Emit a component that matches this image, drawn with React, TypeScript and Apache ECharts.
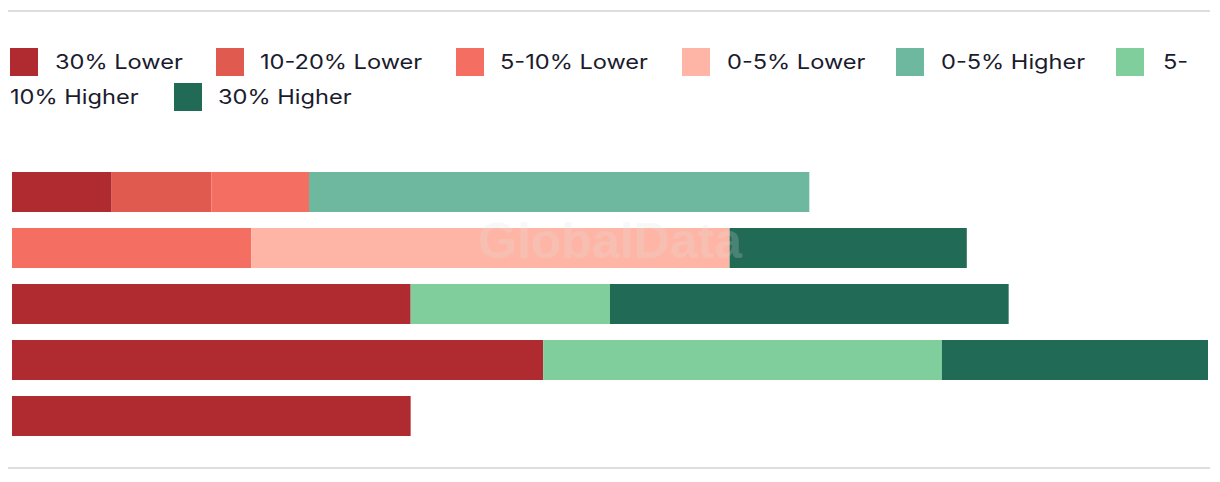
import React, { useEffect, useRef } from "react";
import * as echarts from "echarts";

const categories = ["Group 1", "Group 2", "Group 3", "Group 4", "Group 5"];
const seriesNames = [
  "30% Lower",
  "10-20% Lower",
  "5-10% Lower",
  "0-5% Lower",
  "0-5% Higher",
  "5-10% Higher",
  "30% Higher",
];
const seriesColors = ["#AF2B2F", "#E05A4F", "#F46E62", "#FEB5A6", "#6FB8A0", "#7FCE9C", "#216A56"];

const lower30 = [1, 0, 4, 5.33, 4];
const lower10to20 = [1, 0, 0, 0, 0];
const lower5to10 = [0.98, 2.4, 0, 0, 0];
const lower0to5 = [0, 4.8, 0, 0, 0];
const higher0to5 = [5.02, 0, 0, 0, 0];
const higher5to10 = [0, 0, 2, 4, 0];
const higher30 = [0, 2.38, 4, 2.67, 0];

const seriesValues = [lower30, lower10to20, lower5to10, lower0to5, higher0to5, higher5to10, higher30];

// legend layout (HTML-like wrapped legend)
const legendSquares = [
  [10, 48],
  [216, 48],
  [456, 48],
  [682, 48],
  [896, 48],
  [1116, 48],
  [174, 83],
];
const legendTexts = [
  [["30% Lower", 55, 62]],
  [["10-20% Lower", 260, 62]],
  [["5-10% Lower", 500, 62]],
  [["0-5% Lower", 727, 62]],
  [["0-5% Higher", 941, 62]],
  [["5-", 1163, 62], ["10% Higher", 10, 97]],
  [["30% Higher", 218, 97]],
];

export default function App() {
  const ref = useRef<HTMLDivElement>(null);
  useEffect(() => {
    document.body.style.margin = "0";
    const chart = echarts.init(ref.current!, null, { renderer: "svg" });
    const textScale = 1.18;
    const graphics: any[] = [
      { type: "rect", shape: { x: 8, y: 10, width: 1202, height: 2 }, style: { fill: "#DDDDDD" }, silent: true },
      { type: "rect", shape: { x: 8, y: 467, width: 1202, height: 2 }, style: { fill: "#DDDDDD" }, silent: true },
    ];
    seriesNames.forEach((name, i) => {
      const [sx, sy] = legendSquares[i];
      graphics.push({
        type: "rect",
        shape: { x: sx, y: sy, width: 28, height: 28 },
        style: { fill: seriesColors[i] },
        silent: true,
      });
      legendTexts[i].forEach(([t, tx, ty]) => {
        graphics.push({
          type: "text",
          x: tx as number,
          y: ty as number,
          scaleX: textScale,
          style: {
            text: t as string,
            font: "20px Inter",
            fill: "#1B1B2E",
            verticalAlign: "middle",
            align: "left",
          },
          silent: true,
        });
      });
    });
    graphics.push({
      type: "text",
      x: 610,
      y: 241,
      z: 100,
      style: {
        text: "GlobalData",
        font: "bold 50px 'Liberation Sans'",
        fill: "rgba(225,225,225,0.22)",
        align: "center",
        verticalAlign: "middle",
      },
      silent: true,
    });

    chart.setOption({
      animation: false,
      legend: { show: false },
      grid: { left: 12, right: 12, top: 164, height: 280, containLabel: false },
      xAxis: { type: "value", min: 0, max: 12, show: false },
      yAxis: { type: "category", data: categories, inverse: true, show: false },
      series: seriesNames.map((name, i) => ({
        name,
        type: "bar",
        stack: "total",
        barWidth: 40,
        silent: true,
        itemStyle: { color: seriesColors[i] },
        data: seriesValues[i],
      })),
      graphic: graphics,
    });
    return () => chart.dispose();
  }, []);
  return <div ref={ref} style={{ width: 1220, height: 482 }} />;
}
